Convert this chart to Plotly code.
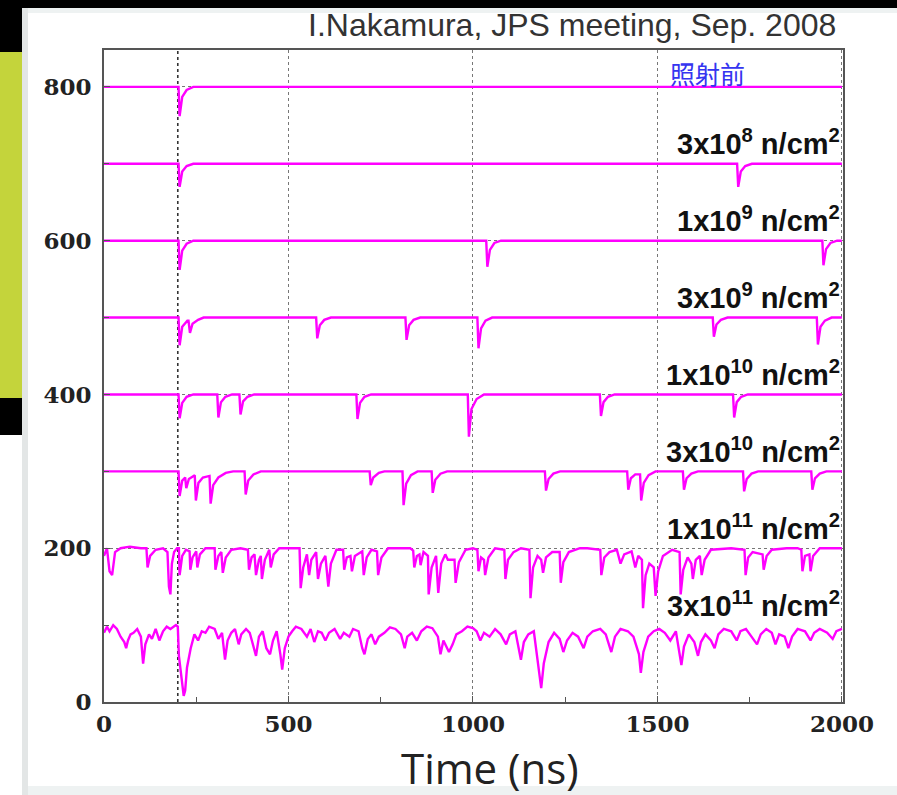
import plotly.graph_objects as go

# ---------------- data ----------------
baselines = [800, 700, 600, 500, 400, 300, 200, 100]
labels = ["照射前",
          "3x10<sup>8</sup> n/cm<sup>2</sup>",
          "1x10<sup>9</sup> n/cm<sup>2</sup>",
          "3x10<sup>9</sup> n/cm<sup>2</sup>",
          "1x10<sup>10</sup> n/cm<sup>2</sup>",
          "3x10<sup>10</sup> n/cm<sup>2</sup>",
          "1x10<sup>11</sup> n/cm<sup>2</sup>",
          "3x10<sup>11</sup> n/cm<sup>2</sup>"]

t1_x = [0, 202, 205, 212, 224, 242, 2000]
t1_y = [800, 800, 762, 787, 796, 800, 800]

t2_x = [0, 202, 205, 212, 224, 242, 1716, 1719, 1726, 1738, 1756, 2000]
t2_y = [700, 700, 670, 690, 697, 700, 700, 670, 690, 697, 700, 700]

t3_x = [0, 202, 205, 212, 224, 242, 1036, 1039, 1046, 1058, 1076, 1947, 1950, 1957, 1969, 1987, 2000]
t3_y = [600, 600, 562, 587, 596, 600, 600, 566, 588, 597, 600, 600, 568, 589, 597, 600, 600]

t4_x = [0, 202, 205, 212, 226, 229, 233, 240, 255, 270, 575, 578, 585, 597, 615, 817, 820, 827, 839, 857,
        1012, 1015, 1022, 1034, 1052, 1650, 1653, 1660, 1672, 1690, 1932, 1935, 1942, 1954, 1972, 2000]
t4_y = [500, 500, 464, 488, 496, 496, 480, 492, 497, 500, 500, 473, 490, 497, 500, 500, 471, 490, 497, 500,
        500, 460, 486, 496, 500, 500, 475, 491, 497, 500, 500, 465, 488, 496, 500, 500]

t5_x = [0, 202, 205, 212, 224, 242, 307, 310, 317, 329, 347, 367, 370, 377, 389, 407, 684, 687, 694, 706, 724,
        986, 989, 996, 1010, 1030, 1344, 1347, 1354, 1366, 1384, 1705, 1708, 1715, 1727, 1745, 2000]
t5_y = [400, 400, 369, 389, 397, 400, 400, 370, 390, 397, 400, 400, 374, 391, 397, 400, 400, 368, 389, 397, 400,
        400, 345, 381, 394, 400, 400, 372, 390, 397, 400, 400, 370, 390, 397, 400, 400]

t6_x = [0, 202, 205, 212, 220, 223, 230, 246, 249, 256, 268, 286, 289, 296, 310, 330, 350, 381, 384, 391, 405, 425,
        720, 723, 730, 745, 760, 809, 812, 819, 832, 850, 888, 891, 898, 912, 930, 1195, 1198, 1205, 1218, 1236,
        1418, 1421, 1428, 1440, 1453, 1456, 1463, 1476, 1495, 1569, 1572, 1579, 1592, 1610, 1732, 1735, 1742,
        1755, 1773, 1917, 1920, 1927, 1940, 1958, 2000]
t6_y = [300, 300, 268, 288, 292, 278, 290, 295, 262, 285, 292, 294, 258, 282, 292, 298, 300, 300, 270, 288, 296, 300,
        300, 282, 292, 298, 300, 300, 256, 284, 295, 300, 300, 272, 289, 297, 300, 300, 275, 290, 297, 300,
        300, 276, 291, 296, 296, 262, 285, 295, 300, 300, 276, 291, 297, 300, 300, 274, 290,
        297, 300, 300, 276, 291, 297, 300, 300]

t7_x = [0, 8, 15, 22, 30, 45, 70, 100, 115, 118, 125, 140, 160, 172, 176, 180, 184, 190, 198, 203, 205, 212,
        222, 232, 234, 240, 250, 253, 260, 275, 300, 302, 310, 318, 322, 330, 345, 370, 390, 393, 400, 408, 412,
        420, 425, 428, 436, 448, 452, 460, 475, 500, 530, 533, 540, 550, 556, 562, 575, 580, 588, 600, 608, 615,
        630, 648, 651, 658, 668, 672, 680, 700, 704, 712, 725, 740, 743, 752, 770, 800, 830, 838, 841, 848, 855,
        858, 866, 878, 880, 888, 900, 906, 914, 925, 932, 950, 953, 962, 980, 1000, 1012, 1015, 1022, 1030,
        1033, 1042, 1060, 1085, 1088, 1095, 1110, 1130, 1153, 1156, 1163, 1175, 1185, 1190, 1198, 1215, 1235,
        1238, 1245, 1260, 1290, 1310, 1345, 1348, 1356, 1370, 1390, 1400, 1410, 1430, 1440, 1448, 1458, 1461,
        1468, 1478, 1490, 1495, 1502, 1515, 1540, 1560, 1563, 1570, 1582, 1592, 1596, 1604, 1615, 1620, 1628,
        1645, 1700, 1736, 1739, 1746, 1758, 1785, 1788, 1796, 1810, 1850, 1880, 1890, 1893, 1900, 1912, 1915,
        1922, 1940, 2000]
t7_y = [190, 200, 170, 165, 195, 200, 202, 200, 200, 175, 190, 198, 200, 195, 150, 140, 180, 195, 200, 200, 165, 190,
        198, 196, 172, 188, 196, 175, 192, 200, 200, 172, 190, 195, 168, 188, 198, 200, 198, 172, 188, 192, 165,
        185, 190, 160, 185, 198, 175, 192, 200, 200, 200, 148, 175, 192, 165, 185, 195, 160, 180, 190, 150, 180,
        198, 198, 172, 188, 190, 170, 190, 196, 165, 188, 198, 196, 165, 188, 200, 200, 200, 197, 175, 190, 192,
        178, 195, 190, 140, 175, 190, 142, 180, 192, 185, 185, 155, 182, 198, 200, 198, 170, 188, 185,
        165, 188, 200, 198, 160, 185, 195, 200, 198, 135, 175, 190, 185, 168, 188, 195, 195,
        155, 182, 195, 200, 200, 198, 165, 188, 195, 198, 180, 192, 196, 175, 190, 185, 122,
        165, 180, 175, 138, 170, 190, 198, 195, 140, 172, 188, 180, 160, 185, 190, 165, 185,
        198, 200, 198, 165, 188, 195, 192, 172, 190, 198, 200, 200, 198, 170, 190, 192, 170,
        190, 200, 200]

t8_x = [0, 8, 15, 25, 35, 45, 55, 60, 65, 72, 80, 90, 100, 106, 112, 122, 130, 140, 150, 160, 170, 180, 195, 200,
        203, 207, 212, 216, 220, 225, 235, 245, 255, 265, 275, 285, 300, 310, 320, 328, 335, 345, 355, 365, 372,
        385, 395, 405, 412, 420, 430, 440, 450, 458, 468, 478, 483, 490, 500, 510, 520, 535, 550, 560, 570, 580,
        590, 600, 610, 625, 640, 650, 665, 675, 690, 700, 706, 715, 725, 735, 745, 760, 775, 790, 805, 815, 822,
        835, 848, 860, 875, 890, 905, 912, 920, 935, 945, 955, 970, 985, 1000, 1010, 1020, 1030, 1045, 1060,
        1075, 1090, 1100, 1115, 1130, 1138, 1150, 1165, 1180, 1185, 1192, 1205, 1220, 1235, 1245, 1255, 1270,
        1285, 1300, 1310, 1325, 1345, 1360, 1375, 1385, 1400, 1420, 1435, 1450, 1455, 1462, 1475, 1490, 1505,
        1520, 1535, 1550, 1560, 1565, 1572, 1585, 1600, 1610, 1618, 1630, 1645, 1655, 1665, 1680, 1700, 1715,
        1725, 1740, 1755, 1770, 1780, 1795, 1810, 1820, 1830, 1845, 1855, 1865, 1880, 1900, 1915, 1925, 1940,
        1960, 1975, 1985, 2000]
t8_y = [90, 98, 92, 100, 95, 85, 78, 70, 80, 88, 90, 95, 85, 50, 75, 88, 82, 95, 80, 92, 98, 95, 100, 98,
        60, 45, 25, 8, 15, 45, 70, 88, 80, 92, 90, 98, 95, 82, 90, 55, 80, 90, 95, 75, 88,
        95, 90, 72, 60, 85, 92, 70, 62, 80, 92, 62, 42, 70, 85, 92, 98, 95, 85, 95, 78, 92,
        90, 80, 90, 95, 82, 90, 85, 95, 92, 70, 62, 82, 88, 75, 85, 90, 97, 95, 88, 70, 85,
        90, 80, 92, 98, 96, 85, 62, 80, 65, 75, 88, 92, 98, 96, 92, 80, 90, 85, 95,
        88, 75, 88, 92, 55, 78, 88, 92, 40, 18, 50, 78, 90, 82, 65, 80, 90,
        85, 70, 85, 92, 95, 88, 65, 85, 95, 92, 85, 62, 38, 65, 85, 92, 95,
        90, 80, 92, 65, 48, 72, 88, 78, 60, 78, 88, 80, 70, 88, 95, 92, 80,
        92, 95, 85, 75, 88, 95, 90, 75, 88, 85, 70, 85, 95, 92, 80, 90, 95,
        90, 82, 92, 95]

traces_x = [t1_x, t2_x, t3_x, t4_x, t5_x, t6_x, t7_x, t8_x]
traces_y = [t1_y, t2_y, t3_y, t4_y, t5_y, t6_y, t7_y, t8_y]

x_ticks = [0, 500, 1000, 1500, 2000]
y_ticks = [0, 200, 400, 600, 800]
trigger_time = 200
x_title = "Time (ns)"
credit = "I.Nakamura, JPS meeting, Sep. 2008"

# ---------------- figure ----------------
W, H = 897, 795
L, R, T, B = 104, 843, 50, 702   # plot area in pixels


def px(xp):
    return (xp - L) / (R - L)


def py(yp):
    return (B - yp) / (B - T)


fig = go.Figure()
for xs, ys in zip(traces_x, traces_y):
    fig.add_trace(go.Scatter(x=xs, y=ys, mode="lines",
                             line=dict(color="#ff00ff", width=2.4),
                             showlegend=False, hoverinfo="skip"))

shapes = []
# slide decoration
shapes.append(dict(type="rect", xref="paper", yref="paper", x0=px(0), x1=px(W), y0=py(0), y1=py(8),
                   fillcolor="#000000", line_width=0, layer="below"))
shapes.append(dict(type="rect", xref="paper", yref="paper", x0=px(22), x1=px(W), y0=py(8), y1=py(13),
                   fillcolor="#eef2f2", line_width=0, layer="below"))
shapes.append(dict(type="rect", xref="paper", yref="paper", x0=px(22), x1=px(W), y0=py(786), y1=py(H),
                   fillcolor="#eef2f2", line_width=0, layer="below"))
shapes.append(dict(type="rect", xref="paper", yref="paper", x0=px(22), x1=px(28), y0=py(8), y1=py(H),
                   fillcolor="#e3e6e6", line_width=0, layer="below"))
shapes.append(dict(type="rect", xref="paper", yref="paper", x0=px(0), x1=px(22), y0=py(0), y1=py(52),
                   fillcolor="#000000", line_width=0, layer="below"))
shapes.append(dict(type="rect", xref="paper", yref="paper", x0=px(0), x1=px(22), y0=py(52), y1=py(398),
                   fillcolor="#c4d43b", line_width=0, layer="below"))
shapes.append(dict(type="rect", xref="paper", yref="paper", x0=px(0), x1=px(22), y0=py(398), y1=py(435),
                   fillcolor="#000000", line_width=0, layer="below"))
# trigger line
shapes.append(dict(type="line", xref="x", yref="paper", x0=trigger_time, x1=trigger_time, y0=0, y1=1,
                   line=dict(color="#333333", width=1.6, dash="dot"), layer="below"))
fig.update_layout(shapes=shapes)

annotations = []
annotations.append(dict(text=credit, xref="paper", yref="paper", x=px(838), y=py(25),
                        xanchor="right", yanchor="middle", showarrow=False,
                        font=dict(family="Liberation Sans", size=32, color="#333333")))
annotations.append(dict(text=x_title, xref="paper", yref="paper", x=px(490), y=py(767),
                        xanchor="center", yanchor="middle", showarrow=False,
                        font=dict(family="Open Sans", size=42, color="#222222")))
for i, (lab, base) in enumerate(zip(labels, baselines)):
    if i == 0:
        annotations.append(dict(text=lab, x=1528, y=base + 18, xref="x", yref="y",
                                xanchor="left", yanchor="middle", showarrow=False,
                                font=dict(family="Noto Sans CJK JP", size=25, color="#3535f0")))
    else:
        annotations.append(dict(text=lab, x=2000, y=base + 28, xref="x", yref="y",
                                xanchor="right", yanchor="middle", showarrow=False,
                                font=dict(family="Liberation Sans", size=29, color="#111111",
                                          weight="bold")))
fig.update_layout(annotations=annotations)

tickfont = dict(family="DejaVu Serif", size=23, color="#222222", weight="bold")
fig.update_xaxes(range=[0, 2003], tickvals=x_ticks, ticks="inside", ticklen=6, tickcolor="#555555",
                 showline=True, linecolor="#555555", linewidth=2, mirror=True,
                 showgrid=True, gridcolor="#777777", griddash="dot", gridwidth=1,
                 zeroline=False, tickfont=tickfont,
                 minor=dict(dtick=250, ticks="inside", ticklen=5, tickcolor="#555555", showgrid=False))
fig.update_yaxes(range=[0, 848], tickvals=y_ticks, ticks="inside", ticklen=6, tickcolor="#555555",
                 showline=True, linecolor="#555555", linewidth=2, mirror=True,
                 showgrid=True, gridcolor="#777777", griddash="dot", gridwidth=1,
                 zeroline=False, tickfont=tickfont, ticklabelstandoff=6,
                 minor=dict(dtick=100, ticks="inside", ticklen=5, tickcolor="#555555", showgrid=False))

fig.update_layout(width=W, height=H, margin=dict(l=L, r=W - R, t=T, b=H - B),
                  paper_bgcolor="white", plot_bgcolor="white")

fig.write_html("out.html")
